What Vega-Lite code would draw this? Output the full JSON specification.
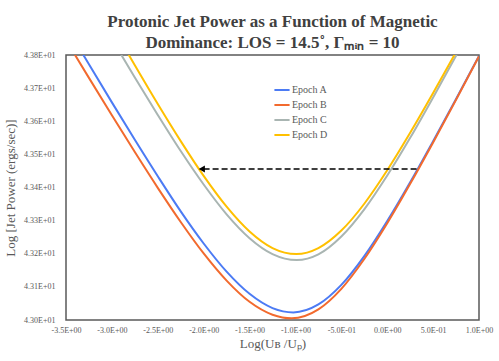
{
  "$schema": "https://vega.github.io/schema/vega-lite/v6.json",
  "width": 413,
  "height": 265,
  "autosize": {"type": "none"},
  "padding": {"left": 66, "top": 55, "right": 20, "bottom": 41},
  "background": "white",
  "title": {
    "text": ["Protonic Jet Power as a Function of Magnetic", "Dominance: LOS = 14.5˚, Γₘᵢₙ = 10"],
    "font": "Liberation Serif",
    "fontSize": 17,
    "fontWeight": "bold",
    "color": "#404040",
    "lineHeight": 21,
    "anchor": "middle",
    "offset": -1
  },
  "config": {
    "view": {"stroke": "#595959", "strokeWidth": 1.5},
    "axis": {
      "grid": false,
      "ticks": false,
      "domain": false,
      "labelFlush": false,
      "labelOverlap": false,
      "labelFont": "Liberation Serif",
      "labelFontSize": 8,
      "labelColor": "#595959",
      "titleFont": "Liberation Serif",
      "titleFontSize": 13,
      "titleFontWeight": "normal",
      "titleColor": "#595959"
    }
  },
  "datasets": {
    "curves": [
      {"epoch": "Epoch A", "x": -3.5, "y": 43.888},
      {"epoch": "Epoch A", "x": -3.25, "y": 43.772},
      {"epoch": "Epoch A", "x": -3.0, "y": 43.657},
      {"epoch": "Epoch A", "x": -2.75, "y": 43.544},
      {"epoch": "Epoch A", "x": -2.5, "y": 43.434},
      {"epoch": "Epoch A", "x": -2.25, "y": 43.328},
      {"epoch": "Epoch A", "x": -2.0, "y": 43.231},
      {"epoch": "Epoch A", "x": -1.75, "y": 43.146},
      {"epoch": "Epoch A", "x": -1.5, "y": 43.079},
      {"epoch": "Epoch A", "x": -1.25, "y": 43.036},
      {"epoch": "Epoch A", "x": -1.023, "y": 43.023},
      {"epoch": "Epoch A", "x": -0.75, "y": 43.047},
      {"epoch": "Epoch A", "x": -0.5, "y": 43.106},
      {"epoch": "Epoch A", "x": -0.25, "y": 43.193},
      {"epoch": "Epoch A", "x": 0.0, "y": 43.299},
      {"epoch": "Epoch A", "x": 0.25, "y": 43.416},
      {"epoch": "Epoch A", "x": 0.5, "y": 43.54},
      {"epoch": "Epoch A", "x": 0.75, "y": 43.667},
      {"epoch": "Epoch A", "x": 1.0, "y": 43.797},
      {"epoch": "Epoch B", "x": -3.5, "y": 43.845},
      {"epoch": "Epoch B", "x": -3.25, "y": 43.731},
      {"epoch": "Epoch B", "x": -3.0, "y": 43.618},
      {"epoch": "Epoch B", "x": -2.75, "y": 43.507},
      {"epoch": "Epoch B", "x": -2.5, "y": 43.399},
      {"epoch": "Epoch B", "x": -2.25, "y": 43.296},
      {"epoch": "Epoch B", "x": -2.0, "y": 43.201},
      {"epoch": "Epoch B", "x": -1.75, "y": 43.119},
      {"epoch": "Epoch B", "x": -1.5, "y": 43.055},
      {"epoch": "Epoch B", "x": -1.25, "y": 43.016},
      {"epoch": "Epoch B", "x": -1.04, "y": 43.005},
      {"epoch": "Epoch B", "x": -0.75, "y": 43.032},
      {"epoch": "Epoch B", "x": -0.5, "y": 43.094},
      {"epoch": "Epoch B", "x": -0.25, "y": 43.184},
      {"epoch": "Epoch B", "x": 0.0, "y": 43.292},
      {"epoch": "Epoch B", "x": 0.25, "y": 43.411},
      {"epoch": "Epoch B", "x": 0.5, "y": 43.536},
      {"epoch": "Epoch B", "x": 0.75, "y": 43.665},
      {"epoch": "Epoch B", "x": 1.0, "y": 43.796},
      {"epoch": "Epoch C", "x": -3.0, "y": 43.848},
      {"epoch": "Epoch C", "x": -2.75, "y": 43.732},
      {"epoch": "Epoch C", "x": -2.5, "y": 43.619},
      {"epoch": "Epoch C", "x": -2.25, "y": 43.51},
      {"epoch": "Epoch C", "x": -2.0, "y": 43.409},
      {"epoch": "Epoch C", "x": -1.75, "y": 43.319},
      {"epoch": "Epoch C", "x": -1.5, "y": 43.247},
      {"epoch": "Epoch C", "x": -1.25, "y": 43.199},
      {"epoch": "Epoch C", "x": -0.986, "y": 43.181},
      {"epoch": "Epoch C", "x": -0.75, "y": 43.198},
      {"epoch": "Epoch C", "x": -0.5, "y": 43.252},
      {"epoch": "Epoch C", "x": -0.25, "y": 43.334},
      {"epoch": "Epoch C", "x": 0.0, "y": 43.436},
      {"epoch": "Epoch C", "x": 0.25, "y": 43.55},
      {"epoch": "Epoch C", "x": 0.5, "y": 43.672},
      {"epoch": "Epoch C", "x": 0.75, "y": 43.798},
      {"epoch": "Epoch C", "x": 1.0, "y": 43.926},
      {"epoch": "Epoch D", "x": -3.0, "y": 43.888},
      {"epoch": "Epoch D", "x": -2.75, "y": 43.769},
      {"epoch": "Epoch D", "x": -2.5, "y": 43.652},
      {"epoch": "Epoch D", "x": -2.25, "y": 43.54},
      {"epoch": "Epoch D", "x": -2.0, "y": 43.435},
      {"epoch": "Epoch D", "x": -1.75, "y": 43.342},
      {"epoch": "Epoch D", "x": -1.5, "y": 43.267},
      {"epoch": "Epoch D", "x": -1.25, "y": 43.217},
      {"epoch": "Epoch D", "x": -0.99, "y": 43.199},
      {"epoch": "Epoch D", "x": -0.75, "y": 43.217},
      {"epoch": "Epoch D", "x": -0.5, "y": 43.27},
      {"epoch": "Epoch D", "x": -0.25, "y": 43.351},
      {"epoch": "Epoch D", "x": 0.0, "y": 43.452},
      {"epoch": "Epoch D", "x": 0.25, "y": 43.565},
      {"epoch": "Epoch D", "x": 0.5, "y": 43.685},
      {"epoch": "Epoch D", "x": 0.75, "y": 43.809},
      {"epoch": "Epoch D", "x": 1.0, "y": 43.936}
    ],
    "arrow": [
      {"x": 0.32, "x2": -2.02, "y": 43.456}
    ]
  },
  "layer": [
    {
      "data": {"name": "curves"},
      "mark": {"type": "line", "strokeWidth": 2, "interpolate": "monotone", "clip": true},
      "encoding": {
        "x": {
          "field": "x", "type": "quantitative",
          "scale": {"domain": [-3.5, 1.0], "nice": false, "zero": false},
          "axis": {
            "values": [-3.5, -3.0, -2.5, -2.0, -1.5, -1.0, -0.5, 0.0, 0.5, 1.0],
            "labelExpr": "datum.value == 0 ? '0.0E+00' : (datum.value < 0 ? '-' : '') + (abs(datum.value) < 1 ? format(abs(datum.value) * 10, '.1f') + 'E-01' : format(abs(datum.value), '.1f') + 'E+00')",
            "labelPadding": 6,
            "labelOverlap": false,
            "title": "Log(Uʙ /Uₚ)",
            "titlePadding": 3
          }
        },
        "y": {
          "field": "y", "type": "quantitative",
          "scale": {"domain": [43.0, 43.8], "nice": false, "zero": false},
          "axis": {
            "values": [43.0, 43.1, 43.2, 43.3, 43.4, 43.5, 43.6, 43.7, 43.8],
            "labelExpr": "'4.' + (round(datum.value * 10) - 400) + 'E+01'",
            "labelPadding": 11,
            "labelOverlap": false,
            "labelBound": false,
            "title": "Log [Jet Power (ergs/sec)]",
            "titlePadding": 6
          }
        },
        "color": {
          "field": "epoch", "type": "nominal",
          "scale": {"domain": ["Epoch A", "Epoch B", "Epoch C", "Epoch D"], "range": ["#4C7BF4", "#F26A2E", "#A9B5B2", "#FFC000"]},
          "legend": {
            "title": null,
            "orient": "none",
            "legendX": 207,
            "legendY": 26,
            "symbolType": "stroke",
            "symbolStrokeWidth": 2,
            "symbolSize": 230,
            "labelFont": "Liberation Serif",
            "labelFontSize": 10,
            "labelColor": "#595959",
            "labelOffset": 1,
            "rowPadding": 1
          }
        }
      }
    },
    {
      "data": {"name": "arrow"},
      "mark": {"type": "rule", "strokeDash": [6, 3], "strokeWidth": 1.6, "color": "black"},
      "encoding": {
        "x": {
          "field": "x", "type": "quantitative",
          "axis": {
            "values": [-3.5, -3.0, -2.5, -2.0, -1.5, -1.0, -0.5, 0.0, 0.5, 1.0],
            "labelExpr": "datum.value == 0 ? '0.0E+00' : (datum.value < 0 ? '-' : '') + (abs(datum.value) < 1 ? format(abs(datum.value) * 10, '.1f') + 'E-01' : format(abs(datum.value), '.1f') + 'E+00')",
            "labelPadding": 6,
            "labelOverlap": false,
            "title": "Log(Uʙ /Uₚ)",
            "titlePadding": 3
          }
        },
        "x2": {"field": "x2"},
        "y": {
          "field": "y", "type": "quantitative",
          "axis": {
            "values": [43.0, 43.1, 43.2, 43.3, 43.4, 43.5, 43.6, 43.7, 43.8],
            "labelExpr": "'4.' + (round(datum.value * 10) - 400) + 'E+01'",
            "labelPadding": 11,
            "labelOverlap": false,
            "labelBound": false,
            "title": "Log [Jet Power (ergs/sec)]",
            "titlePadding": 6
          }
        }
      }
    },
    {
      "data": {"name": "arrow"},
      "mark": {"type": "point", "shape": "triangle-left", "filled": true, "color": "black", "size": 50, "opacity": 1},
      "encoding": {
        "x": {
          "field": "x2", "type": "quantitative",
          "axis": {
            "values": [-3.5, -3.0, -2.5, -2.0, -1.5, -1.0, -0.5, 0.0, 0.5, 1.0],
            "labelExpr": "datum.value == 0 ? '0.0E+00' : (datum.value < 0 ? '-' : '') + (abs(datum.value) < 1 ? format(abs(datum.value) * 10, '.1f') + 'E-01' : format(abs(datum.value), '.1f') + 'E+00')",
            "labelPadding": 6,
            "labelOverlap": false,
            "title": "Log(Uʙ /Uₚ)",
            "titlePadding": 3
          }
        },
        "y": {
          "field": "y", "type": "quantitative",
          "axis": {
            "values": [43.0, 43.1, 43.2, 43.3, 43.4, 43.5, 43.6, 43.7, 43.8],
            "labelExpr": "'4.' + (round(datum.value * 10) - 400) + 'E+01'",
            "labelPadding": 11,
            "labelOverlap": false,
            "labelBound": false,
            "title": "Log [Jet Power (ergs/sec)]",
            "titlePadding": 6
          }
        }
      }
    }
  ]
}
